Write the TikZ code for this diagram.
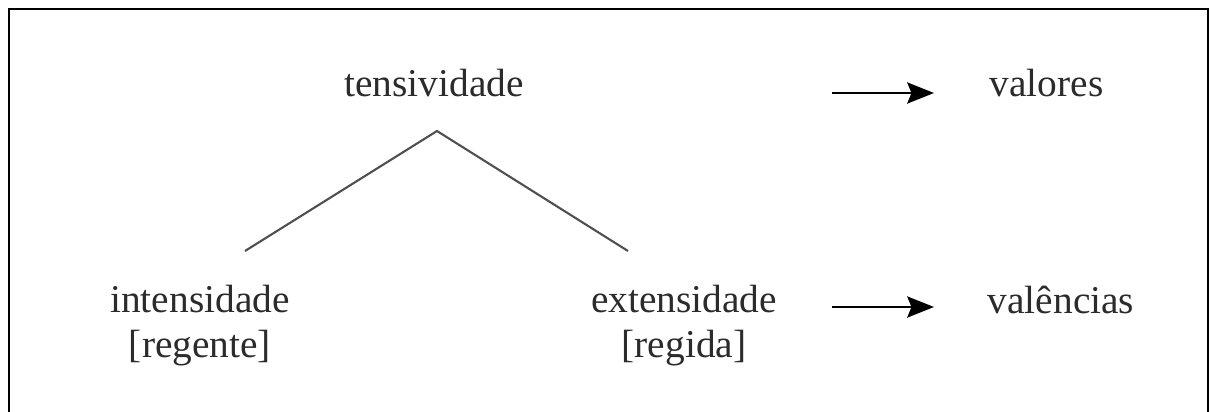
\documentclass[tikz,border=0pt]{standalone}
\usepackage{fontspec}
\setmainfont{Liberation Serif}
\usetikzlibrary{arrows.meta,positioning}
\definecolor{ink}{HTML}{2B2B2B}
\definecolor{branch}{HTML}{505050}

\begin{document}
\begin{tikzpicture}[x=0.01cm,y=-0.01cm,
  word/.style={inner sep=0pt,text=ink,font=\fontsize{11.2}{12.6}\selectfont,align=center},
  branchline/.style={draw=branch,line width=0.6pt},
  arr/.style={draw=black,line width=0.8pt,-{Stealth[length=7.6pt,width=6pt,inset=1.2pt]}}]
\useasboundingbox (0,0) rectangle (1211,412);
\draw [line width=0.7pt] (9,420) -- (9,9) -- (1208,9) -- (1208,420);%frame, open below

\node[word,anchor=base] (tens) at (434,97) {tensividade};
\node[word,anchor=base] (inten) at (200,357) {intensidade\\\relax[regente]};%base = last line
\node[word,anchor=base] (exten) at (684,357) {extensidade\\\relax[regida]};
\node[word,anchor=base west] (val) at (989,97) {valores};
\node[word,anchor=base west] (vale) at (987,313) {valências};

\coordinate (top) at (437,131);
\coordinate (lft) at (245,251);
\coordinate (rgt) at (628,251);
\draw [branchline] (lft) -- (top) -- (rgt);

\coordinate (a1) at (832,93);
\coordinate (b1) at (934,93);
\coordinate (a2) at (832,307);
\coordinate (b2) at (934,307);
\draw [arr] (a1) -- (b1);
\draw [arr] (a2) -- (b2);

\end{tikzpicture}
\end{document}
